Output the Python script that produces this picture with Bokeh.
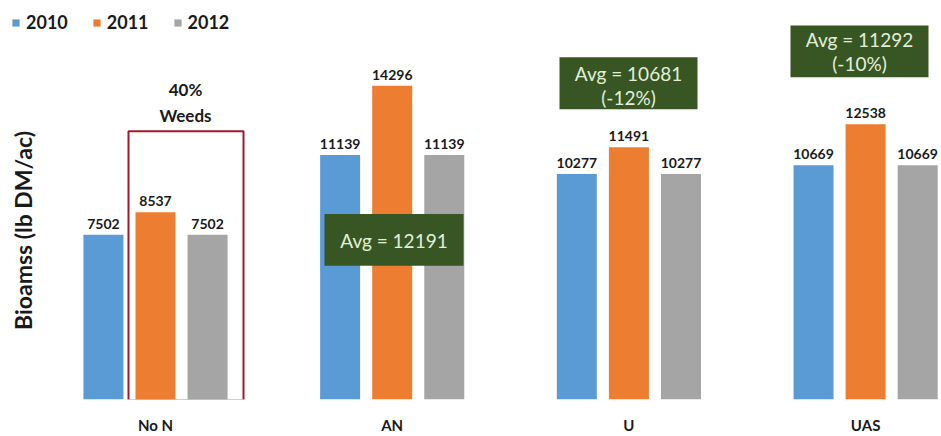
import math
from bokeh.plotting import figure
from bokeh.models import (ColumnDataSource, Range1d, FixedTicker, Label, BoxAnnotation,
                          Legend, LegendItem)
from bokeh.transform import dodge
from bokeh.embed import file_html
from bokeh.resources import INLINE

# ---- data ----
categories = ["No N", "AN", "U", "UAS"]
years = ["2010", "2011", "2012"]
y2010 = [7502, 11139, 10277, 10669]
y2011 = [8537, 14296, 11491, 12538]
y2012 = [7502, 11139, 10277, 10669]
avg_text = {1: ["Avg = 12191"], 2: ["Avg = 10681", "(-12%)"], 3: ["Avg = 11292", "(-10%)"]}
weeds_text = ["40%", "Weeds"]
colors = ["#5B9BD5", "#ED7D31", "#A5A5A5"]

FONT = "Lato"
DARK = "#1a1a1a"

# geometry helpers (pixel -> data) for annotations
CAT0_PX, CAT_STEP_PX = 155.0, 236.7
BASE_PX, PX_PER_UNIT = 400.0, 0.022
def dx(px):
    return (px - CAT0_PX) / CAT_STEP_PX
def dy(py):
    return (BASE_PX - py) / PX_PER_UNIT

idx = list(range(len(categories)))
src = ColumnDataSource(dict(
    x=idx, y2010=y2010, y2011=y2011, y2012=y2012,
    l2010=[str(v) for v in y2010], l2011=[str(v) for v in y2011], l2012=[str(v) for v in y2012],
))

p = figure(width=941, height=436, output_backend="svg", toolbar_location=None,
           x_range=Range1d(dx(0), dx(941)), y_range=Range1d(0, dy(0)),
           min_border_left=0, min_border_right=0, min_border_top=0, min_border_bottom=36)
p.outline_line_color = None
p.xgrid.visible = False
p.ygrid.visible = False
p.yaxis.visible = False
p.background_fill_color = "white"
p.border_fill_color = "white"

offsets = [-0.22, 0.0, 0.22]
renderers = []
for yr, off, col in zip(years, offsets, colors):
    r = p.vbar(x=dodge("x", off, range=p.x_range), top="y" + yr, width=0.169,
               source=src, fill_color=col, line_color=None)
    renderers.append(r)
    p.text(x=dodge("x", off, range=p.x_range), y="y" + yr, text="l" + yr, source=src,
           text_align="center", text_baseline="bottom", y_offset=-6,
           text_font_size="14px", text_font_style="bold", text_color=DARK,
           text_font={"value": FONT})

# x axis
xa = p.xaxis[0]
xa.ticker = FixedTicker(ticks=idx)
xa.major_label_overrides = {i: c for i, c in enumerate(categories)}
xa.axis_line_color = None
xa.major_tick_line_color = None
xa.minor_tick_line_color = None
xa.major_label_text_font = FONT
xa.major_label_text_font_style = "bold"
xa.major_label_text_font_size = "15px"
xa.major_label_text_color = DARK
xa.major_label_standoff = 10

# legend
legend = Legend(items=[LegendItem(label=yr, renderers=[r]) for yr, r in zip(years, renderers)],
                orientation="horizontal", location="top_left",
                label_text_font=FONT, label_text_font_style="bold", label_text_font_size="18px",
                label_text_color=DARK, glyph_width=9, glyph_height=9, spacing=24,
                label_standoff=6, padding=0, margin=11,
                border_line_color=None, background_fill_alpha=0)
p.add_layout(legend)

# y axis title
p.add_layout(Label(x=22, y=436 - 36 - 231, x_units="screen", y_units="screen",
                   text="Bioamss (lb DM/ac)", angle=math.pi / 2, text_align="center",
                   text_baseline="middle", text_font=FONT, text_font_style="bold",
                   text_font_size="23px", text_color=DARK))

# weeds box
p.add_layout(BoxAnnotation(left=dx(128), right=dx(243), bottom=dy(401), top=dy(131),
                           fill_alpha=0, line_color="#9B1B2A", line_alpha=1, line_width=2))
for t, py in zip(weeds_text, [89, 115]):
    p.add_layout(Label(x=dx(185), y=dy(py), text=t, text_align="center", text_baseline="middle",
                       text_font=FONT, text_font_style="bold", text_font_size="17px",
                       text_color=DARK))

# average boxes
GREEN = "#375623"
boxes = {1: (324, 463, 214, 266, [241]), 2: (559, 697, 57, 109, [73, 97]), 3: (790, 928, 25, 77, [39, 63])}
for ci, (l, r, t, b, lines_y) in boxes.items():
    p.add_layout(BoxAnnotation(left=dx(l), right=dx(r), bottom=dy(b), top=dy(t),
                               fill_color=GREEN, fill_alpha=1, line_color=None))
    for txt, py in zip(avg_text[ci], lines_y):
        p.add_layout(Label(x=dx((l + r) / 2), y=dy(py), text=txt, text_align="center",
                           text_baseline="middle", text_font=FONT, text_font_size="19px",
                           text_color="#E2F0D9"))

open("out.html", "w").write(file_html(p, INLINE))
